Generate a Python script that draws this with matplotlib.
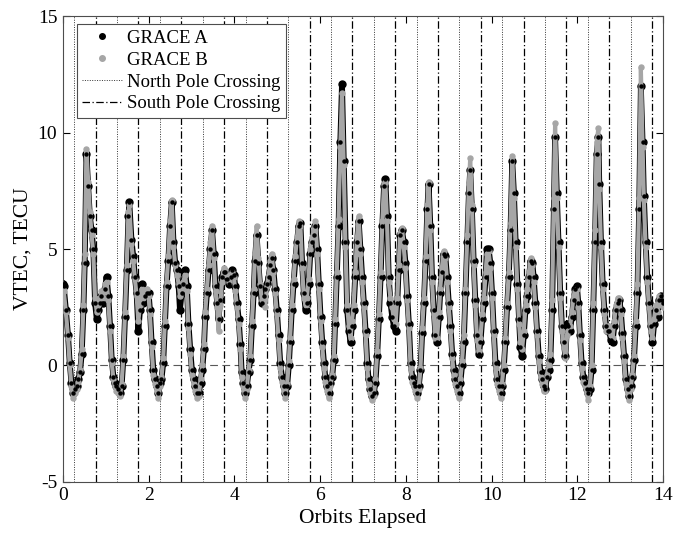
import numpy as np
import matplotlib
matplotlib.use("Agg")
import matplotlib.pyplot as plt
from matplotlib.lines import Line2D

plt.rcParams['font.family'] = ['Liberation Serif', 'DejaVu Serif']
plt.rcParams['axes.unicode_minus'] = False

# orbits elapsed and VTEC (TECU)
orbit = [
    0.00, 0.02, 0.07, 0.12, 0.16, 0.20, 0.24, 0.28, 0.32, 0.36, 0.40, 0.44, 0.48, 0.51, 0.55, 0.59,
    0.63, 0.67, 0.71, 0.75, 0.79, 0.83, 0.87, 0.90, 0.94, 0.98, 1.02, 1.06, 1.10, 1.14, 1.18, 1.21,
    1.25, 1.29, 1.33, 1.37, 1.41, 1.45, 1.49, 1.53, 1.55, 1.60, 1.64, 1.68, 1.72, 1.76, 1.80, 1.84,
    1.88, 1.92, 1.96, 2.00, 2.03, 2.07, 2.11, 2.15, 2.19, 2.23, 2.27, 2.30, 2.34, 2.38, 2.42, 2.46,
    2.50, 2.54, 2.58, 2.62, 2.66, 2.70, 2.73, 2.77, 2.81, 2.85, 2.89, 2.93, 2.97, 3.01, 3.05, 3.09,
    3.13, 3.17, 3.21, 3.25, 3.29, 3.32, 3.36, 3.40, 3.44, 3.48, 3.52, 3.56, 3.60, 3.63, 3.67, 3.71,
    3.75, 3.79, 3.83, 3.87, 3.91, 3.95, 3.99, 4.02, 4.06, 4.10, 4.14, 4.17, 4.21, 4.25, 4.29, 4.33,
    4.37, 4.41, 4.45, 4.48, 4.52, 4.56, 4.60, 4.64, 4.68, 4.72, 4.76, 4.80, 4.84, 4.87, 4.91, 4.95,
    4.99, 5.03, 5.07, 5.11, 5.15, 5.19, 5.23, 5.27, 5.30, 5.34, 5.38, 5.42, 5.46, 5.50, 5.54, 5.58,
    5.62, 5.66, 5.69, 5.73, 5.77, 5.81, 5.85, 5.89, 5.93, 5.97, 6.01, 6.05, 6.09, 6.12, 6.16, 6.20,
    6.24, 6.28, 6.32, 6.35, 6.39, 6.43, 6.47, 6.51, 6.55, 6.59, 6.63, 6.67, 6.71, 6.74, 6.78, 6.82,
    6.86, 6.90, 6.94, 6.98, 7.02, 7.06, 7.10, 7.13, 7.17, 7.21, 7.25, 7.29, 7.33, 7.37, 7.41, 7.45,
    7.49, 7.52, 7.56, 7.60, 7.64, 7.68, 7.72, 7.76, 7.80, 7.83, 7.87, 7.91, 7.95, 7.99, 8.03, 8.07,
    8.11, 8.15, 8.18, 8.22, 8.26, 8.30, 8.34, 8.38, 8.42, 8.46, 8.50, 8.53, 8.57, 8.61, 8.65, 8.69,
    8.73, 8.77, 8.80, 8.84, 8.88, 8.92, 8.96, 9.00, 9.04, 9.08, 9.12, 9.15, 9.19, 9.23, 9.27, 9.31,
    9.35, 9.39, 9.43, 9.47, 9.50, 9.54, 9.58, 9.62, 9.66, 9.70, 9.74, 9.78, 9.82, 9.86, 9.89, 9.93,
    9.97, 10.01, 10.05, 10.09, 10.13, 10.17, 10.21, 10.24, 10.28, 10.32, 10.36, 10.40, 10.44, 10.48, 10.52, 10.56,
    10.60, 10.64, 10.67, 10.71, 10.75, 10.79, 10.83, 10.87, 10.91, 10.95, 10.98, 11.02, 11.06, 11.10, 11.14, 11.18,
    11.21, 11.25, 11.29, 11.33, 11.37, 11.41, 11.45, 11.48, 11.52, 11.56, 11.60, 11.64, 11.68, 11.72, 11.76, 11.79,
    11.83, 11.87, 11.91, 11.95, 11.99, 12.02, 12.06, 12.10, 12.14, 12.18, 12.22, 12.25, 12.29, 12.33, 12.37, 12.41,
    12.45, 12.49, 12.51, 12.55, 12.59, 12.63, 12.67, 12.71, 12.74, 12.78, 12.82, 12.86, 12.90, 12.94, 12.98, 13.01,
    13.05, 13.09, 13.13, 13.17, 13.21, 13.24, 13.28, 13.32, 13.36, 13.40, 13.44, 13.48, 13.52, 13.55, 13.59, 13.63,
    13.67, 13.71, 13.75, 13.79, 13.83, 13.87, 13.90, 13.94, 13.98, 14.00,
]

vtec_a = [
    3.5, 3.4, 2.4, 1.3, 0.1, -0.75, -1.2, -1.0, -0.9, -0.6, -0.3, 0.5, 2.4, 4.4, 9.1, 7.7,
    6.4, 5.8, 5.0, 2.7, 2.0, 2.4, 2.7, 3.0, 2.7, 3.3, 3.8, 3.0, 1.7, 0.25, -0.5, -0.75,
    -0.9, -1.0, -1.2, -0.9, 0.25, 2.1, 4.1, 6.4, 7.0, 5.4, 4.7, 3.8, 3.1, 1.5, 2.4, 3.5,
    2.7, 3.0, 3.1, 3.1, 2.4, 1.0, -0.2, -0.6, -0.9, -1.2, -0.75, -0.6, 0.1, 1.7, 3.4, 4.5,
    6.0, 7.0, 5.3, 4.4, 4.1, 3.4, 2.4, 3.1, 3.5, 4.1, 3.4, 1.8, 0.7, -0.2, -0.6, -0.9,
    -1.2, -1.2, -0.75, -0.2, 0.7, 2.1, 3.1, 4.1, 5.0, 5.8, 4.8, 3.4, 2.7, 2.0, 2.8, 3.8,
    4.0, 4.0, 3.7, 3.5, 3.8, 4.1, 3.9, 3.4, 2.7, 2.0, 0.9, -0.3, -0.75, -1.2, -0.9, -0.3,
    0.25, 1.7, 3.1, 4.5, 5.6, 4.4, 3.4, 2.7, 3.0, 3.3, 3.5, 3.8, 4.3, 4.6, 4.1, 3.3,
    2.4, 1.3, 0.1, -0.5, -0.9, -1.2, -0.9, 0.0, 1.0, 2.4, 3.5, 4.5, 5.3, 6.0, 6.1, 4.4,
    3.1, 2.4, 2.7, 3.5, 4.8, 5.3, 5.6, 6.0, 5.0, 3.5, 2.1, 1.0, 0.1, -0.5, -0.9, -1.2,
    -0.75, -0.5, 0.25, 1.8, 3.8, 6.0, 9.6, 12.1, 8.8, 5.3, 2.4, 1.5, 1.0, 1.7, 2.4, 3.8,
    5.3, 6.2, 5.0, 3.8, 2.7, 1.5, 0.1, -0.6, -1.0, -1.3, -1.2, -0.75, 0.4, 2.0, 3.8, 6.0,
    7.7, 8.0, 6.4, 3.8, 2.7, 2.1, 1.7, 1.5, 2.7, 4.1, 5.6, 5.8, 5.3, 4.4, 3.0, 1.8,
    0.1, -0.5, -0.75, -0.9, -1.2, -0.9, -0.2, 1.4, 2.7, 4.5, 6.7, 7.8, 6.0, 3.8, 2.4, 1.3,
    1.0, 2.1, 3.1, 4.0, 4.8, 4.7, 3.8, 2.7, 1.7, 0.5, -0.2, -0.6, -0.9, -1.2, -0.75, 0.0,
    1.0, 3.1, 5.3, 7.4, 8.4, 6.7, 4.5, 2.8, 1.3, 0.5, 1.0, 2.0, 2.7, 3.8, 5.0, 5.0,
    4.4, 3.1, 1.5, 0.1, -0.6, -0.9, -1.2, -0.9, -0.2, 1.0, 2.5, 3.8, 5.8, 8.8, 7.4, 5.3,
    3.5, 2.0, 0.8, 0.4, 1.3, 2.4, 3.0, 3.8, 4.5, 4.4, 3.8, 2.7, 1.5, 0.4, -0.3, -0.6,
    -0.9, -1.0, -0.5, -0.2, 0.25, 2.4, 6.7, 9.8, 7.4, 5.3, 3.1, 1.7, 1.0, 0.4, 1.8, 1.7,
    1.5, 2.1, 2.8, 3.3, 3.4, 2.7, 1.3, 0.1, -0.5, -0.75, -1.0, -1.2, -1.0, -0.2, 2.4, 5.3,
    9.1, 9.8, 7.8, 5.3, 3.5, 2.4, 1.7, 1.5, 1.5, 1.1, 1.0, 1.7, 2.4, 2.7, 2.8, 2.4,
    1.4, 0.4, -0.6, -1.0, -1.3, -0.9, -0.5, 0.25, 1.7, 3.1, 6.7, 12.0, 9.6, 7.3, 5.3, 3.8,
    2.7, 1.7, 1.0, 1.8, 2.4, 2.1, 2.8, 3.0, 2.8, 2.7,
]

vtec_b = [
    3.3, 3.2, 2.3, 1.2, 0.0, -0.9, -1.4, -1.2, -1.0, -0.7, -0.2, 0.7, 2.6, 4.8, 9.3, 7.9,
    6.6, 5.6, 4.8, 2.9, 2.3, 2.6, 2.9, 3.2, 2.9, 3.5, 3.6, 2.8, 1.5, 0.1, -0.6, -0.9,
    -1.1, -1.2, -1.3, -0.8, 0.4, 2.3, 4.3, 6.6, 6.9, 5.2, 4.5, 3.7, 3.0, 1.9, 2.6, 3.3,
    2.9, 3.2, 3.3, 3.0, 2.2, 0.8, -0.4, -0.8, -1.1, -1.4, -0.9, -0.5, 0.3, 1.9, 3.6, 4.7,
    6.2, 7.1, 5.1, 4.3, 3.9, 3.5, 3.0, 3.3, 3.6, 3.9, 3.2, 1.6, 0.5, -0.4, -0.8, -1.1,
    -1.4, -1.3, -0.6, 0.0, 0.9, 2.3, 3.3, 4.3, 5.3, 6.0, 4.6, 3.2, 2.5, 1.5, 2.6, 3.6,
    4.2, 4.1, 3.9, 3.6, 3.9, 4.0, 3.8, 3.2, 2.5, 1.8, 0.7, -0.5, -0.9, -1.4, -1.0, -0.2,
    0.4, 1.9, 3.3, 4.8, 6.0, 4.6, 3.5, 2.8, 2.8, 2.5, 3.4, 3.9, 4.5, 4.8, 4.0, 3.1,
    2.2, 1.1, -0.1, -0.7, -1.1, -1.4, -0.8, 0.2, 1.2, 2.6, 3.7, 4.7, 5.5, 6.2, 6.0, 4.2,
    2.9, 2.6, 2.9, 3.7, 5.0, 5.5, 5.8, 6.2, 4.8, 3.3, 1.9, 0.8, -0.1, -0.7, -1.1, -1.4,
    -0.9, -0.4, 0.4, 2.0, 4.0, 6.3, 9.4, 11.7, 8.6, 5.1, 2.6, 1.7, 1.2, 1.9, 2.6, 4.0,
    5.5, 6.4, 4.8, 3.6, 2.5, 1.3, -0.1, -0.8, -1.2, -1.5, -1.3, -0.6, 0.6, 2.2, 4.0, 6.2,
    7.8, 7.9, 6.2, 3.6, 2.9, 2.5, 2.0, 1.8, 2.9, 4.3, 5.7, 5.9, 5.1, 4.2, 2.8, 1.6,
    -0.1, -0.7, -0.9, -1.1, -1.4, -1.0, -0.1, 1.6, 2.9, 4.7, 6.9, 7.9, 5.8, 3.6, 2.2, 1.2,
    1.2, 2.3, 3.3, 4.2, 4.9, 4.6, 3.6, 2.5, 1.5, 0.3, -0.4, -0.8, -1.1, -1.4, -0.6, 0.2,
    1.3, 3.3, 5.6, 7.8, 8.9, 6.9, 4.3, 2.6, 1.1, 0.6, 1.2, 2.2, 2.9, 4.0, 4.8, 4.9,
    4.2, 2.9, 1.3, -0.1, -0.8, -1.1, -1.4, -0.8, 0.0, 1.2, 2.7, 4.0, 6.1, 9.0, 7.2, 5.1,
    3.3, 1.8, 1.0, 0.7, 1.5, 2.6, 3.3, 4.0, 4.6, 4.3, 3.6, 2.5, 1.3, 0.2, -0.5, -0.8,
    -1.1, -1.1, -0.4, 0.0, 0.5, 2.8, 7.2, 10.4, 7.2, 5.1, 2.9, 1.5, 0.8, 0.3, 1.3, 1.5,
    1.7, 2.3, 3.0, 3.2, 3.3, 2.5, 1.1, -0.1, -0.7, -0.9, -1.2, -1.5, -0.9, 0.0, 2.7, 5.8,
    9.6, 10.2, 7.6, 5.1, 3.3, 2.2, 1.5, 1.7, 1.7, 1.3, 1.2, 1.9, 2.6, 2.9, 2.9, 2.2,
    1.2, 0.2, -0.8, -1.2, -1.5, -1.0, -0.4, 0.4, 1.9, 3.5, 7.2, 12.8, 9.4, 7.1, 5.1, 3.6,
    2.5, 1.5, 1.2, 2.0, 2.6, 2.3, 3.0, 2.9, 2.6, 2.5,
]

# pole crossing times (orbits)
north_pole = [0.26, 1.26, 2.26, 3.26, 4.26, 5.26, 6.25, 7.25, 8.25, 9.25, 10.25, 11.25, 12.25, 13.25]
south_pole = [0.77, 1.76, 2.76, 3.76, 4.76, 5.76, 6.75, 7.75, 8.75, 9.75, 10.75, 11.74, 12.74, 13.74]

fig = plt.figure(figsize=(6.76, 5.42), dpi=100)
ax = fig.add_axes([0.093, 0.111, 0.888, 0.859])

# black underneath and wider, grey on top -> grey band with black speckled edges
ax.plot(orbit, vtec_a, color='black', lw=4.2, marker='o', ms=5.0, mec='black', zorder=2)
ax.plot(orbit, vtec_b, color='#a6a6a6', lw=3.0, marker='o', ms=3.6, mec='#a6a6a6', zorder=3)
ax.plot(orbit, vtec_a, ls='none', marker='o', ms=2.2, color='black', zorder=4)

for xp in north_pole:
    ax.axvline(xp, color='0.2', lw=0.7, ls=(0, (1, 1.5)), zorder=1)
for xp in south_pole:
    ax.axvline(xp, color='black', lw=0.9, ls=(0, (6, 2, 1, 2)), zorder=1)
ax.axhline(0, color='0.35', lw=0.8, ls=(0, (7, 4)), zorder=1)

ax.set_xlim(0, 14)
ax.set_ylim(-5, 15)
ax.set_xticks(range(0, 15, 2))
ax.set_yticks([-5, 0, 5, 10, 15])
ax.tick_params(direction='in', top=True, right=True, length=5, width=0.8, labelsize=14, pad=4)
for s in ax.spines.values():
    s.set_color('0.3')
    s.set_linewidth(0.8)

ax.set_xlabel('Orbits Elapsed', fontsize=15.5, labelpad=3)
ax.set_ylabel('VTEC, TECU', fontsize=15.5, labelpad=4)

handles = [
    Line2D([], [], ls='none', marker='o', ms=4, color='black'),
    Line2D([], [], ls='none', marker='o', ms=4, color='#a6a6a6'),
    Line2D([], [], color='0.2', lw=0.7, ls=(0, (1, 1.5))),
    Line2D([], [], color='black', lw=0.9, ls=(0, (6, 2, 1, 2))),
]
labels = ['GRACE A', 'GRACE B', 'North Pole Crossing', 'South Pole Crossing']
leg = ax.legend(handles, labels, loc='upper left', bbox_to_anchor=(0.023, 0.983),
                borderaxespad=0, fontsize=13.5, fancybox=False, framealpha=1,
                edgecolor='0.3', labelspacing=0.25, borderpad=0.3,
                handletextpad=0.3, handlelength=2.1)
leg.get_frame().set_linewidth(0.8)
leg.set_zorder(5)

fig.savefig('out.png', dpi=100)
